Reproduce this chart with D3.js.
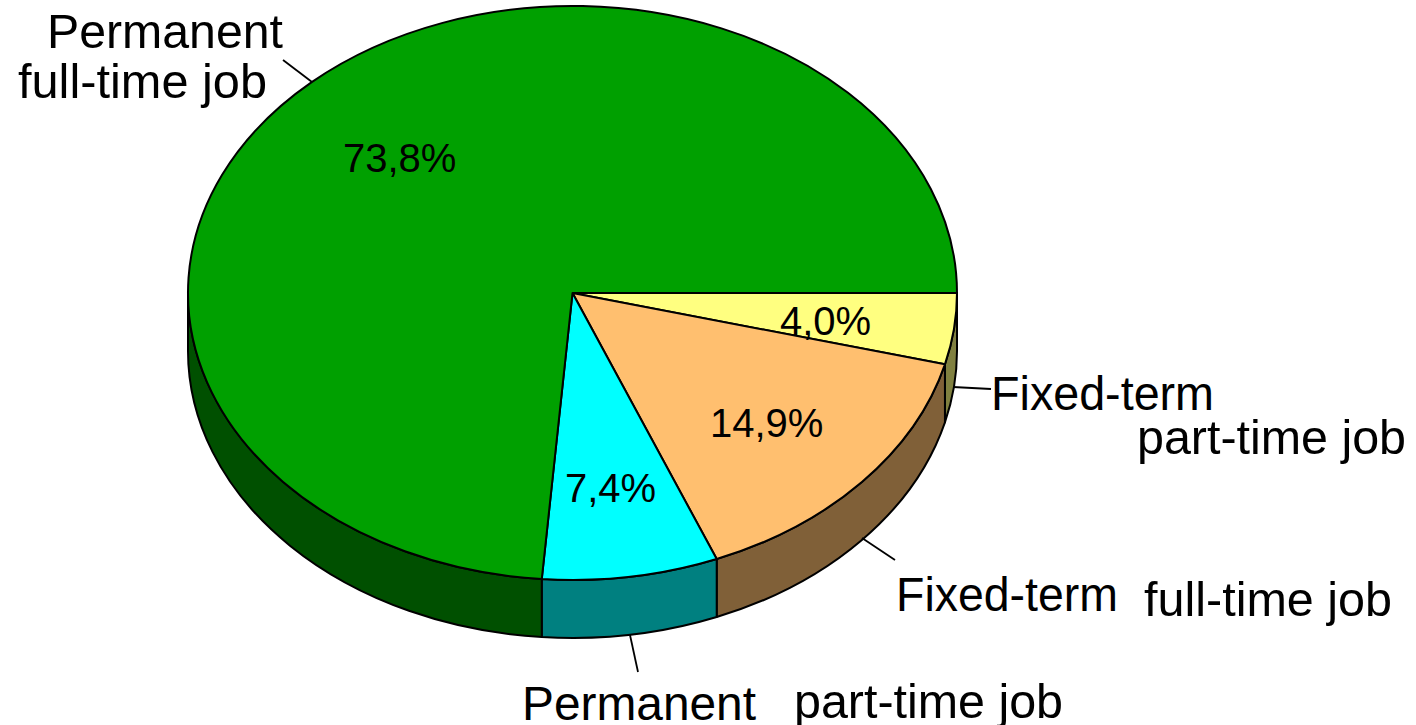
<!DOCTYPE html>
<html><head><meta charset="utf-8">
<script src="https://cdnjs.cloudflare.com/ajax/libs/d3/7.8.5/d3.min.js"></script>
<style>html,body{margin:0;background:#fff}svg{display:block}text{font-family:"Liberation Sans",Arial,sans-serif;fill:#000}</style>
</head><body><svg id="c" width="1416" height="725"></svg>
<script>
const categories = ["Fixed-term part-time job","Fixed-term full-time job","Permanent part-time job","Permanent full-time job"];
const shares = [4.0,14.9,7.4,73.8];
const topColors = ["#FFFF80","#FFBF6F","#00FFFF","#00A000"];
const sideColors = ["#808040","#806038","#008080","#005000"];
const labelLines = ["Permanent","full-time job","Fixed-term","part-time job","Fixed-term","full-time job","Permanent","part-time job"];
const labelAnchors = [[47,47],[18,97],[991,409],[1137,453],[896,610],[1144,615],[522,719],[794,717]];
const labelWidths = [236,249,223,269,222,248,234,269];
const valueAnchors = [[780,335],[710,437],[565,502],[343,172]];
const leaders = [[[283,60],[312,82]],[[953,387],[991,389]],[[862,538],[895,560]],[[630,635],[638,672]]];
const cx=572.5, cy=293, rx=384.5, ry=287, depth=58;
const svg=d3.select("#c");
const k=ry/rx;
const g=svg.append("g").attr("transform",`translate(${cx},${cy}) scale(1,${k})`);
const arcs=d3.pie().sort(null).startAngle(Math.PI/2).endAngle(Math.PI*2.5)(shares);
const arc=d3.arc().innerRadius(0).outerRadius(rx);
const d=depth/k;
arcs.forEach((a,i)=>{
  const s=Math.max(a.startAngle-Math.PI/2,0), e=Math.min(a.endAngle-Math.PI/2,Math.PI);
  if(e<=s) return;
  const p=d3.path();
  p.arc(0,0,rx,s,e);
  p.lineTo(rx*Math.cos(e),rx*Math.sin(e)+d);
  p.arc(0,d,rx,e,s,true);
  p.closePath();
  g.append("path").attr("d",p.toString()).attr("fill",sideColors[i]).attr("stroke","#000").attr("stroke-width",2).attr("stroke-linejoin","round").attr("vector-effect","non-scaling-stroke");
});
g.selectAll("path.top").data(arcs).join("path").attr("class","top").attr("d",arc)
 .attr("fill",(_,i)=>topColors[i]).attr("stroke","#000").attr("stroke-width",2).attr("stroke-linejoin","round").attr("vector-effect","non-scaling-stroke");
svg.selectAll("line.l").data(leaders).join("line").attr("class","l")
 .attr("x1",d=>d[0][0]).attr("y1",d=>d[0][1]).attr("x2",d=>d[1][0]).attr("y2",d=>d[1][1]).attr("stroke","#000").attr("stroke-width",1.8);
svg.selectAll("text.v").data(shares).join("text").attr("class","v")
 .attr("x",(_,i)=>valueAnchors[i][0]).attr("y",(_,i)=>valueAnchors[i][1]).attr("font-size",40)
 .text(v=>v.toFixed(1).replace(".",",")+"%");
svg.selectAll("text.c").data(labelLines).join("text").attr("class","c")
 .attr("x",(_,i)=>labelAnchors[i][0]).attr("y",(_,i)=>labelAnchors[i][1]+0.5).attr("font-size",48)
 .attr("textLength",(_,i)=>labelWidths[i]).attr("lengthAdjust","spacingAndGlyphs")
 .text(d=>d);
</script></body></html>
